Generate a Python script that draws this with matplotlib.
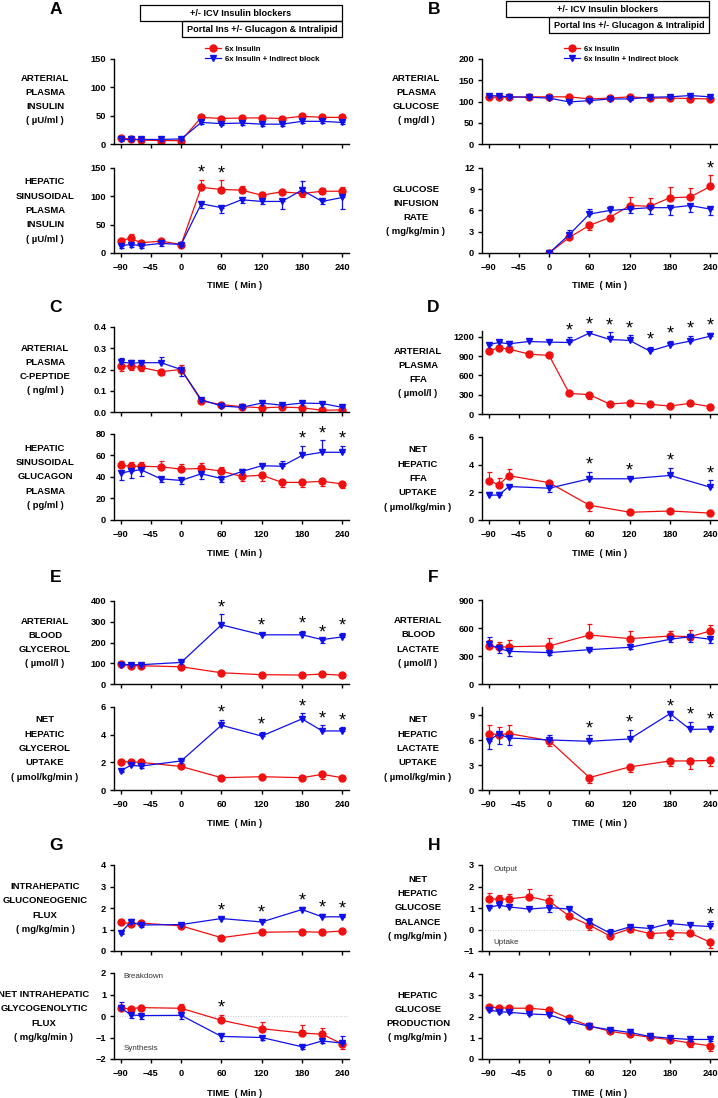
import matplotlib
matplotlib.use("Agg")
import matplotlib.pyplot as plt
from matplotlib.lines import Line2D
from matplotlib.patches import Rectangle

plt.rcParams['font.family'] = ['Liberation Sans', 'DejaVu Sans']
plt.rcParams['font.weight'] = 'bold'

RED = "#f01010"
BLUE = "#1010e8"

# time points (min)
T13 = [-90, -75, -60, -30, 0, 30, 60, 90, 120, 150, 180, 210, 240]
T9 = [-90, -75, -60, 0, 60, 120, 180, 210, 240]
T8 = [-90, -75, -60, 0, 60, 120, 180, 240]
T_GIR = [0, 30, 60, 90, 120, 150, 180, 210, 240]
X_TICKS = [-90, -45, 0, 60, 120, 180, 240]

# error values: sign gives the direction of the one-sided SEM bar
# A - arterial insulin
ins_art_red = [10, 9, 7, 6, 6, 47, 45, 46, 46, 45, 49, 47, 47]
ins_art_red_err = [2, 2, 2, 2, 2, 3, 3, 3, 3, 2, 3, 3, 3]
ins_art_blue = [8, 8, 8, 8, 9, 38, 36, 37, 35, 35, 40, 40, 38]
ins_art_blue_err = [-2, -2, -2, -2, -2, -3, -3, -3, -3, -3, -3, -3, -3]
# A - hepatic sinusoidal insulin
ins_hep_red = [22, 26, 18, 21, 15, 116, 112, 111, 102, 108, 105, 109, 109]
ins_hep_red_err = [5, 7, 3, 4, 3, 13, 16, 8, 6, 4, -6, 6, 8]
ins_hep_blue = [13, 15, 13, 17, 15, 87, 80, 94, 91, 91, 111, 91, 98]
ins_hep_blue_err = [-5, -5, -5, -5, -3, -7, -9, -5, -5, -14, 16, -5, -20]
# B - arterial glucose
glc_red = [110, 110, 110, 111, 111, 111, 106, 108, 111, 108, 108, 107, 106]
glc_red_err = [3, 3, 3, 3, 3, 3, 3, 3, 3, 3, 3, 3, 3]
glc_blue = [114, 113, 111, 110, 108, 99, 102, 106, 106, 110, 111, 114, 111]
glc_blue_err = [-3, -3, -3, -3, -3, -3, -3, -3, -3, -3, -3, -3, -3]
# B - glucose infusion rate
gir_red = [0, 2.2, 3.9, 5.0, 6.7, 6.6, 7.8, 7.9, 9.4]
gir_red_err = [0, 0.4, -0.6, 0.4, 1.2, 1.2, 1.5, 1.3, 1.6]
gir_blue = [0, 2.6, 5.5, 6.0, 6.2, 6.4, 6.4, 6.7, 6.2]
gir_blue_err = [0, 0.6, 0.7, 0.6, -0.6, -0.9, -1.0, -0.9, -0.9]
# C - arterial C-peptide
cpep_red = [0.215, 0.216, 0.21, 0.19, 0.2, 0.052, 0.035, 0.025, 0.02, 0.023, 0.02, 0.008, 0.01]
cpep_red_err = [-0.02, -0.02, -0.015, -0.015, 0.02, 0.005, 0.005, 0.005, 0.005, 0.005, 0.005, 0.003, 0.003]
cpep_blue = [0.235, 0.23, 0.232, 0.232, 0.2, 0.058, 0.028, 0.022, 0.042, 0.032, 0.042, 0.04, 0.022]
cpep_blue_err = [0.02, 0.015, 0.01, 0.025, -0.03, -0.005, -0.005, -0.005, 0.005, 0.005, 0.005, 0.005, 0.005]
# C - hepatic sinusoidal glucagon
gcg_red = [50.8, 50, 50, 49.5, 47.3, 48, 45.5, 40.5, 41.7, 35, 35, 36, 33.6]
gcg_red_err = [4, 4, 4, 5, 5, 5, 4, -4, -5, -4, -4, -4, -4]
gcg_blue = [43.6, 45.5, 46.7, 38.3, 36.8, 43, 38.6, 45, 50.5, 50, 60, 63, 63]
gcg_blue_err = [-6, -6, -6, -3, -3, -5, -3, 2, 2, 5, 9, 11, 6]
# D - arterial FFA
ffa_red = [978, 1030, 1009, 931, 910, 321, 300, 155, 176, 150, 124, 166, 114]
ffa_red_err = [40, 50, 50, 50, 50, 30, -70, 20, 20, 20, 20, 20, 20]
ffa_blue = [1076, 1112, 1091, 1127, 1117, 1112, 1257, 1159, 1143, 978, 1071, 1133, 1210]
ffa_blue_err = [30, 30, 50, 40, 30, 80, 30, 110, 80, 70, 70, 80, 50]
# D - net hepatic FFA uptake
ffa_up_red = [2.85, 2.55, 3.2, 2.7, 1.07, 0.56, 0.65, 0.5]
ffa_up_red_err = [0.6, 0.5, 0.5, 0.15, -0.4, 0.1, 0.1, 0.1]
ffa_up_blue = [1.8, 1.8, 2.42, 2.3, 2.98, 2.98, 3.22, 2.37]
ffa_up_blue_err = [0.2, 0.25, 0.1, -0.3, 0.5, 0.1, 0.55, 0.5]
# E - arterial glycerol
gly_red = [98, 88, 88, 83, 54, 45, 43, 48, 42]
gly_red_err = [5, 5, 5, 5, 5, 5, 5, 5, 5]
gly_blue = [93, 93, 93, 104, 285, 237, 237, 214, 227]
gly_blue_err = [5, 5, 5, 5, 50, 10, 20, -15, 20]
# E - net hepatic glycerol uptake
gly_up_red = [2.04, 2.04, 2.0, 1.7, 0.89, 0.96, 0.89, 1.13, 0.89]
gly_up_red_err = [0.05, 0.05, 0.05, -0.1, 0.05, 0.05, 0.05, -0.3, -0.15]
gly_up_blue = [1.4, 1.78, 1.73, 2.1, 4.68, 3.9, 5.14, 4.27, 4.27]
gly_up_blue_err = [-0.1, 0.2, -0.15, 0.1, 0.4, 0.3, 0.4, 0.4, 0.25]
# F - arterial lactate
lac_red = [407, 393, 400, 407, 525, 486, 514, 507, 568]
lac_red_err = [60, 60, 70, 90, 120, 80, 50, 70, 60]
lac_blue = [425, 382, 350, 336, 368, 393, 479, 507, 479]
lac_blue_err = [80, -50, -50, -30, -15, -15, -30, -60, -40]
# F - net hepatic lactate uptake
lac_up_red = [6.8, 6.67, 6.8, 5.95, 1.5, 2.78, 3.5, 3.5, 3.57]
lac_up_red_err = [1.0, 0.9, 1.0, -0.6, -0.6, -0.6, -0.6, -1.0, -0.7]
lac_up_blue = [5.95, 6.75, 6.27, 6.03, 5.87, 6.15, 9.2, 7.3, 7.34]
lac_up_blue_err = [-1.0, -1.2, -0.9, 0.6, 0.7, 1.1, -0.8, 0.9, 0.25]
# G - gluconeogenic flux
gng_red = [1.35, 1.26, 1.3, 1.17, 0.62, 0.87, 0.9, 0.87, 0.93]
gng_red_err = [0.1, 0.1, 0.1, 0.05, -0.1, 0.05, 0.05, -0.12, 0.05]
gng_blue = [0.86, 1.34, 1.21, 1.23, 1.51, 1.35, 1.93, 1.59, 1.59]
gng_blue_err = [-0.05, 0.15, -0.1, 0.05, 0.05, 0.1, 0.1, 0.12, 0.05]
# G - net glycogenolytic flux
glyc_red = [0.36, 0.34, 0.39, 0.36, -0.2, -0.59, -0.79, -0.85, -1.3]
glyc_red_err = [0.05, 0.05, 0.05, 0.2, 0.25, 0.3, 0.35, 0.3, -0.25]
glyc_blue = [0.39, 0.05, 0.02, 0.03, -0.95, -1.0, -1.43, -1.16, -1.26]
glyc_blue_err = [0.25, -0.15, -0.15, -0.15, -0.2, -0.1, -0.1, -0.1, 0.35]
# H - net hepatic glucose balance
ngb_red = [1.44, 1.4, 1.42, 1.53, 1.32, 0.62, 0.2, -0.29, 0.03, -0.19, -0.14, -0.17, -0.59]
ngb_red_err = [0.25, 0.2, 0.25, 0.35, 0.3, 0.05, -0.2, -0.1, -0.15, -0.2, -0.3, -0.1, -0.25]
ngb_blue = [1.02, 1.13, 1.05, 0.95, 1.02, 0.95, 0.34, -0.16, 0.12, 0.05, 0.28, 0.19, 0.14]
ngb_blue_err = [0.1, 0.2, 0.1, 0.05, -0.2, 0.05, 0.2, 0.2, 0.05, 0.05, 0.05, 0.05, 0.25]
# H - hepatic glucose production
hgp_red = [2.44, 2.42, 2.39, 2.39, 2.31, 1.91, 1.56, 1.31, 1.16, 1.02, 0.91, 0.75, 0.62]
hgp_red_err = [0.05, 0.05, 0.05, 0.05, 0.05, 0.05, 0.05, 0.05, 0.15, 0.2, 0.15, -0.2, -0.25]
hgp_blue = [2.31, 2.23, 2.2, 2.12, 2.08, 1.77, 1.53, 1.38, 1.25, 1.06, 0.98, 0.92, 0.92]
hgp_blue_err = [-0.05, -0.05, -0.05, -0.05, -0.05, -0.05, -0.05, -0.05, 0.15, -0.05, 0.1, -0.05, -0.05]

W, H = 718, 1098
fig = plt.figure(figsize=(W / 100, H / 100), dpi=100)


def px_axes(x0, y0, x1, y1):
    return fig.add_axes([x0 / W, 1 - y1 / H, (x1 - x0) / W, (y1 - y0) / H])


def signed_err(err):
    lo = [-e if e < 0 else 0 for e in err]
    hi = [e if e > 0 else 0 for e in err]
    return [lo, hi]


def draw(ax, t, red, red_err, blue, blue_err, ylim, yticks, stars=(), xlabels=False, fmt=None):
    ax.errorbar(t, blue, yerr=signed_err(blue_err), color=BLUE, marker='v', ms=4.6, lw=0.9,
                elinewidth=0.9, capsize=1.8, capthick=0.9, zorder=3)
    ax.errorbar(t, red, yerr=signed_err(red_err), color=RED, marker='o', ms=5.0, lw=0.9,
                elinewidth=0.9, capsize=1.8, capthick=0.9, zorder=2)
    ax.set_xlim(-100, 250)
    ax.set_ylim(*ylim)
    ax.set_xticks(X_TICKS)
    ax.set_yticks(yticks)
    if fmt:
        ax.set_yticklabels([fmt % v for v in yticks])
    if not xlabels:
        ax.set_xticklabels([])
    for s in ['top', 'right']:
        ax.spines[s].set_visible(False)
    for s in ['left', 'bottom']:
        ax.spines[s].set_linewidth(1.0)
    ax.tick_params(axis='both', direction='out', length=3, width=1.0, labelsize=6.7, pad=2.5)
    ax.tick_params(axis='x', pad=4.5)
    ax.patch.set_alpha(0)
    for st in stars:
        i = t.index(st)
        top = max(red[i] + max(red_err[i], 0), blue[i] + max(blue_err[i], 0))
        ax.annotate('*', (st, top), xytext=(0, 1.5), textcoords='offset points',
                    ha='center', va='baseline', fontsize=13, fontweight='normal',
                    annotation_clip=False)


def ylabel(x, y0, y1, text):
    fig.text(x / W, 1 - (y0 + y1) / 2 / H, text, ha='center', va='center', fontsize=6.8,
             multialignment='center', linespacing=1.75)


def letter(x, y, s):
    fig.text(x / W, 1 - y / H, s, ha='center', va='center', fontsize=12.5)


def time_label(xc, y):
    fig.text(xc / W, 1 - y / H, 'TIME  ( Min )', ha='center', va='center', fontsize=6.7)


LX, RX = (114, 349), (482, 717)

# ---- A ----
ax = px_axes(LX[0], 59, LX[1], 144)
draw(ax, T13, ins_art_red, ins_art_red_err, ins_art_blue, ins_art_blue_err, (0, 150), [0, 50, 100, 150])
ylabel(45, 59, 140, 'ARTERIAL\nPLASMA\nINSULIN\n( µU/ml )')
ax = px_axes(LX[0], 168, LX[1], 253)
draw(ax, T13, ins_hep_red, ins_hep_red_err, ins_hep_blue, ins_hep_blue_err, (0, 150), [0, 50, 100, 150],
     stars=[30, 60], xlabels=True)
ylabel(45, 168, 253, 'HEPATIC\nSINUSOIDAL\nPLASMA\nINSULIN\n( µU/ml )')

# ---- B ----
ax = px_axes(RX[0], 59, RX[1], 144)
draw(ax, T13, glc_red, glc_red_err, glc_blue, glc_blue_err, (0, 200), [0, 50, 100, 150, 200])
ylabel(416, 59, 140, 'ARTERIAL\nPLASMA\nGLUCOSE\n( mg/dl )')
ax = px_axes(RX[0], 168, RX[1], 253)
draw(ax, T_GIR, gir_red, gir_red_err, gir_blue, gir_blue_err, (0, 12), [0, 3, 6, 9, 12],
     stars=[240], xlabels=True)
ylabel(416, 168, 253, 'GLUCOSE\nINFUSION\nRATE\n( mg/kg/min )')

# ---- C ----
ax = px_axes(LX[0], 327, LX[1], 412)
draw(ax, T13, cpep_red, cpep_red_err, cpep_blue, cpep_blue_err, (0, 0.4), [0, 0.1, 0.2, 0.3, 0.4], fmt='%.1f')
ylabel(45, 327, 412, 'ARTERIAL\nPLASMA\nC-PEPTIDE\n( ng/ml )')
ax = px_axes(LX[0], 434, LX[1], 520)
draw(ax, T13, gcg_red, gcg_red_err, gcg_blue, gcg_blue_err, (0, 80), [0, 20, 40, 60, 80],
     stars=[180, 210, 240], xlabels=True)
ylabel(45, 434, 520, 'HEPATIC\nSINUSOIDAL\nGLUCAGON\nPLASMA\n( pg/ml )')

# ---- D ----
ax = px_axes(RX[0], 331, RX[1], 414)
draw(ax, T13, ffa_red, ffa_red_err, ffa_blue, ffa_blue_err, (0, 1290), [0, 300, 600, 900, 1200],
     stars=[30, 60, 90, 120, 150, 180, 210, 240])
ylabel(418, 331, 414, 'ARTERIAL\nPLASMA\nFFA\n( µmol/l )')
ax = px_axes(RX[0], 437, RX[1], 520)
draw(ax, T8, ffa_up_red, ffa_up_red_err, ffa_up_blue, ffa_up_blue_err, (0, 6), [0, 2, 4, 6],
     stars=[60, 120, 180, 240], xlabels=True)
ylabel(418, 437, 520, 'NET\nHEPATIC\nFFA\nUPTAKE\n( µmol/kg/min )')

# ---- E ----
ax = px_axes(LX[0], 601, LX[1], 684)
draw(ax, T9, gly_red, gly_red_err, gly_blue, gly_blue_err, (0, 400), [0, 100, 200, 300, 400],
     stars=[60, 120, 180, 210, 240])
ylabel(45, 601, 684, 'ARTERIAL\nBLOOD\nGLYCEROL\n( µmol/l )')
ax = px_axes(LX[0], 707, LX[1], 790)
draw(ax, T9, gly_up_red, gly_up_red_err, gly_up_blue, gly_up_blue_err, (0, 6), [0, 2, 4, 6],
     stars=[60, 120, 180, 210, 240], xlabels=True)
ylabel(45, 707, 790, 'NET\nHEPATIC\nGLYCEROL\nUPTAKE\n( µmol/kg/min )')

# ---- F ----
ax = px_axes(RX[0], 600, RX[1], 684)
draw(ax, T9, lac_red, lac_red_err, lac_blue, lac_blue_err, (0, 900), [0, 300, 600, 900])
ylabel(418, 600, 684, 'ARTERIAL\nBLOOD\nLACTATE\n( µmol/l )')
ax = px_axes(RX[0], 707, RX[1], 790)
draw(ax, T9, lac_up_red, lac_up_red_err, lac_up_blue, lac_up_blue_err, (0, 10), [0, 3, 6, 9],
     stars=[60, 120, 180, 210, 240], xlabels=True)
ylabel(418, 707, 790, 'NET\nHEPATIC\nLACTATE\nUPTAKE\n( µmol/kg/min )')

# ---- G ----
ax = px_axes(LX[0], 865, LX[1], 951)
draw(ax, T9, gng_red, gng_red_err, gng_blue, gng_blue_err, (0, 4), [0, 1, 2, 3, 4],
     stars=[60, 120, 180, 210, 240])
ylabel(45, 865, 951, 'INTRAHEPATIC\nGLUCONEOGENIC\nFLUX\n( mg/kg/min )')
ax = px_axes(LX[0], 973, LX[1], 1059)
ax.axhline(0, color='#c8c8c8', lw=0.7, ls=':', zorder=1)
draw(ax, T9, glyc_red, glyc_red_err, glyc_blue, glyc_blue_err, (-2, 2), [-2, -1, 0, 1, 2],
     stars=[60], xlabels=True)
ax.text(0.04, 0.96, 'Breakdown', transform=ax.transAxes, fontsize=5.8, fontweight='normal',
        color='#333333', va='center')
ax.text(0.04, 0.12, 'Synthesis', transform=ax.transAxes, fontsize=5.8, fontweight='normal',
        color='#333333', va='center')
ylabel(44, 973, 1059, 'NET INTRAHEPATIC\nGLYCOGENOLYTIC\nFLUX\n( mg/kg/min )')

# ---- H ----
ax = px_axes(RX[0], 865, RX[1], 951)
ax.axhline(0, color='#c8c8c8', lw=0.7, ls=':', zorder=1)
draw(ax, T13, ngb_red, ngb_red_err, ngb_blue, ngb_blue_err, (-1, 3), [-1, 0, 1, 2, 3], stars=[240])
ax.text(0.05, 0.95, 'Output', transform=ax.transAxes, fontsize=5.8, fontweight='normal',
        color='#333333', va='center')
ax.text(0.05, 0.1, 'Uptake', transform=ax.transAxes, fontsize=5.8, fontweight='normal',
        color='#333333', va='center')
ylabel(418, 865, 951, 'NET\nHEPATIC\nGLUCOSE\nBALANCE\n( mg/kg/min )')
ax = px_axes(RX[0], 974, RX[1], 1059)
draw(ax, T13, hgp_red, hgp_red_err, hgp_blue, hgp_blue_err, (0, 4), [0, 1, 2, 3, 4], xlabels=True)
ylabel(418, 974, 1059, 'HEPATIC\nGLUCOSE\nPRODUCTION\n( mg/kg/min )')

# time labels
for y in (286, 553, 823, 1093):
    time_label(235, y)
    time_label(600, y)

# panel letters
letter(56, 9, 'A')
letter(434, 9, 'B')
letter(56, 308, 'C')
letter(433, 307, 'D')
letter(56, 577, 'E')
letter(433, 577, 'F')
letter(56, 845, 'G')
letter(434, 845, 'H')


# protocol boxes
def box(x0, y0, x1, y1, text):
    fig.patches.append(Rectangle((x0 / W, 1 - y1 / H), (x1 - x0) / W, (y1 - y0) / H,
                                 transform=fig.transFigure, fill=False, ec='black', lw=0.9))
    fig.text((x0 + x1) / 2 / W, 1 - (y0 + y1) / 2 / H, text, ha='center', va='center', fontsize=6.6)


box(140, 5, 342, 21, '+/- ICV Insulin blockers')
box(182, 21, 342, 37, 'Portal Ins +/- Glucagon & Intralipid')
box(506, 1, 709, 17, '+/- ICV Insulin blockers')
box(549, 17, 709, 33, 'Portal Ins +/- Glucagon & Intralipid')

# legends
handles = [Line2D([], [], color=RED, marker='o', ms=5.0, lw=0.9),
           Line2D([], [], color=BLUE, marker='v', ms=4.6, lw=0.9)]
labels = ['6x Insulin', '6x Insulin + Indirect block']
for x in (205, 564):
    fig.legend(handles, labels, loc='center left', bbox_to_anchor=(x / W, 1 - 54 / H),
               frameon=False, fontsize=5.6, handlelength=2.0, handletextpad=0.6,
               labelspacing=0.3, borderpad=0, borderaxespad=0)

fig.savefig('out.png', dpi=100)
